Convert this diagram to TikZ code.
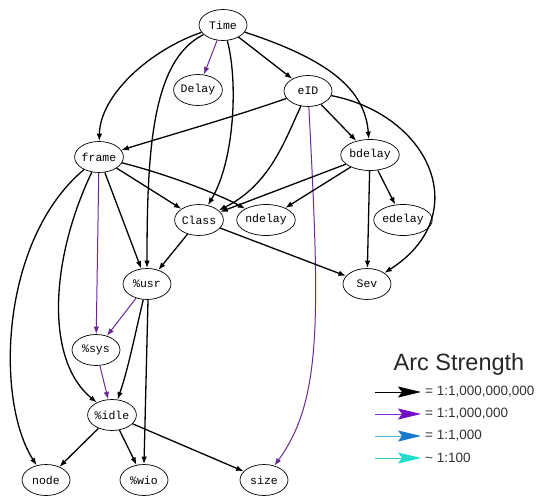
\documentclass[tikz,border=0pt]{standalone}
\usepackage{fontspec}
\setmainfont{Liberation Sans}
\newfontfamily\monofam{Liberation Mono}
\usetikzlibrary{arrows.meta,shapes.geometric}
\definecolor{edgepurple}{HTML}{6A2C91}
\definecolor{legpurpleline}{HTML}{8A2BD0}
\definecolor{legpurplehead}{HTML}{7410C4}
\definecolor{legblueline}{HTML}{5AAAD8}
\definecolor{legbluehead}{HTML}{1878CC}
\definecolor{legcyanline}{HTML}{33CCC0}
\definecolor{legcyanhead}{HTML}{22DDCC}
\begin{document}
\begin{tikzpicture}[x=1pt,y=-1pt,
  var/.style={ellipse,draw,line width=0.7pt,minimum width=48pt,minimum height=31pt,inner sep=0pt,
    font=\monofam\fontsize{11.5}{12}\selectfont},
  arc/.style={-{Latex[length=7.5pt,width=5.5pt]},line width=1.3pt},
  parc/.style={arc,draw=edgepurple,line width=1pt},
  legarc/.style={line width=0.8pt},
  legtip/.style={-{Stealth[length=23pt,width=11pt,inset=4pt,color=#1]}},
  legtext/.style={anchor=west,font=\fontsize{13.5}{14}\selectfont,text=black!80,inner sep=0pt}
]
\useasboundingbox (0,0) rectangle (543,498);
% nodes
\node[var] (Time)   at (223,25)  {Time};
\node[var] (Delay)  at (198,90)  {Delay};
\node[var] (eID)    at (308,91)  {eID};
\node[var] (frame)  at (99,157)  {frame};
\node[var] (bdelay) at (370,155) {bdelay};
\node[var] (Class)  at (199,220) {Class};
\node[var] (ndelay) at (266,220) {ndelay};
\node[var] (edelay) at (403,220) {edelay};
\node[var] (usr)    at (147,284) {\%usr};
\node[var] (Sev)    at (367,284) {Sev};
\node[var] (sys)    at (96,350)  {\%sys};
\node[var] (idle)   at (112,415) {\%idle};
\node[var] (nd)     at (46,480)  {node};
\node[var] (wio)    at (144,480) {\%wio};
\node[var] (size)   at (264,480) {size};
% edges from Time
\draw[parc] (Time) -- (Delay);
\draw[arc] (Time) -- (eID);
\draw[arc] (Time) .. controls (150,50) and (100,95) .. (frame);
\draw[arc] (Time) .. controls (152,60) and (147,150) .. (usr);
\draw[arc] (Time) .. controls (238,80) and (235,160) .. (Class);
\draw[arc] (Time) .. controls (330,60) and (365,90) .. (bdelay);
% edges from eID
\draw[arc] (eID) .. controls (230,118) and (170,135) .. (frame);
\draw[arc] (eID) .. controls (285,140) and (270,185) .. (Class);
\draw[arc] (eID) -- (bdelay);
\draw[parc] (eID) .. controls (320,320) and (322,400) .. (size);
\draw[arc] (eID) .. controls (430,115) and (475,215) .. (Sev);
% edges from frame
\draw[arc] (frame) -- (Class);
\draw[arc] (frame) .. controls (170,175) and (220,195) .. (ndelay);
\draw[arc] (frame) -- (usr);
\draw[parc] (frame) -- (sys);
\draw[arc] (frame) .. controls (50,260) and (45,360) .. (idle);
\draw[arc] (frame) .. controls (0,240) and (-5,400) .. (nd);
% edges from bdelay
\draw[arc] (bdelay) -- (Class);
\draw[arc] (bdelay) -- (ndelay);
\draw[arc] (bdelay) -- (edelay);
\draw[arc] (bdelay) -- (Sev);
% edges from Class
\draw[arc] (Class) -- (usr);
\draw[arc] (Class) -- (Sev);
% edges from usr
\draw[parc] (usr) -- (sys);
\draw[arc] (usr) .. controls (136,330) and (128,370) .. (idle);
\draw[arc] (usr.south) ++(1,0) coordinate (usrb) (usrb) -- (wio.north);
% edges from sys / idle
\draw[parc] (sys) -- (idle);
\draw[arc] (idle) -- (nd);
\draw[arc] (idle) -- (wio);
\draw[arc] (idle) -- (size);
% legend
\node[font=\fontsize{23.5}{24}\selectfont,text=black!85,inner sep=0pt] (title) at (459,364) {Arc Strength};
\coordinate (a1) at (375,392); \coordinate (b1) at (421,392);
\coordinate (a2) at (375,414); \coordinate (b2) at (421,414);
\coordinate (a3) at (375,436); \coordinate (b3) at (421,436);
\coordinate (a4) at (375,458); \coordinate (b4) at (421,458);
\draw[legarc,draw=black,legtip=black] (a1) -- (b1);
\draw[legarc,draw=legpurpleline,legtip=legpurplehead] (a2) -- (b2);
\draw[legarc,draw=legblueline,legtip=legbluehead] (a3) -- (b3);
\draw[legarc,draw=legcyanline,legtip=legcyanhead] (a4) -- (b4);
\node[legtext] (t1) at (425,392) {= 1:1,000,000,000};
\node[legtext] (t2) at (425,414) {= 1:1,000,000};
\node[legtext] (t3) at (425,436) {= 1:1,000};
\node[legtext] (t4) at (425,458) {\textasciitilde{} 1:100};
\end{tikzpicture}
\end{document}
